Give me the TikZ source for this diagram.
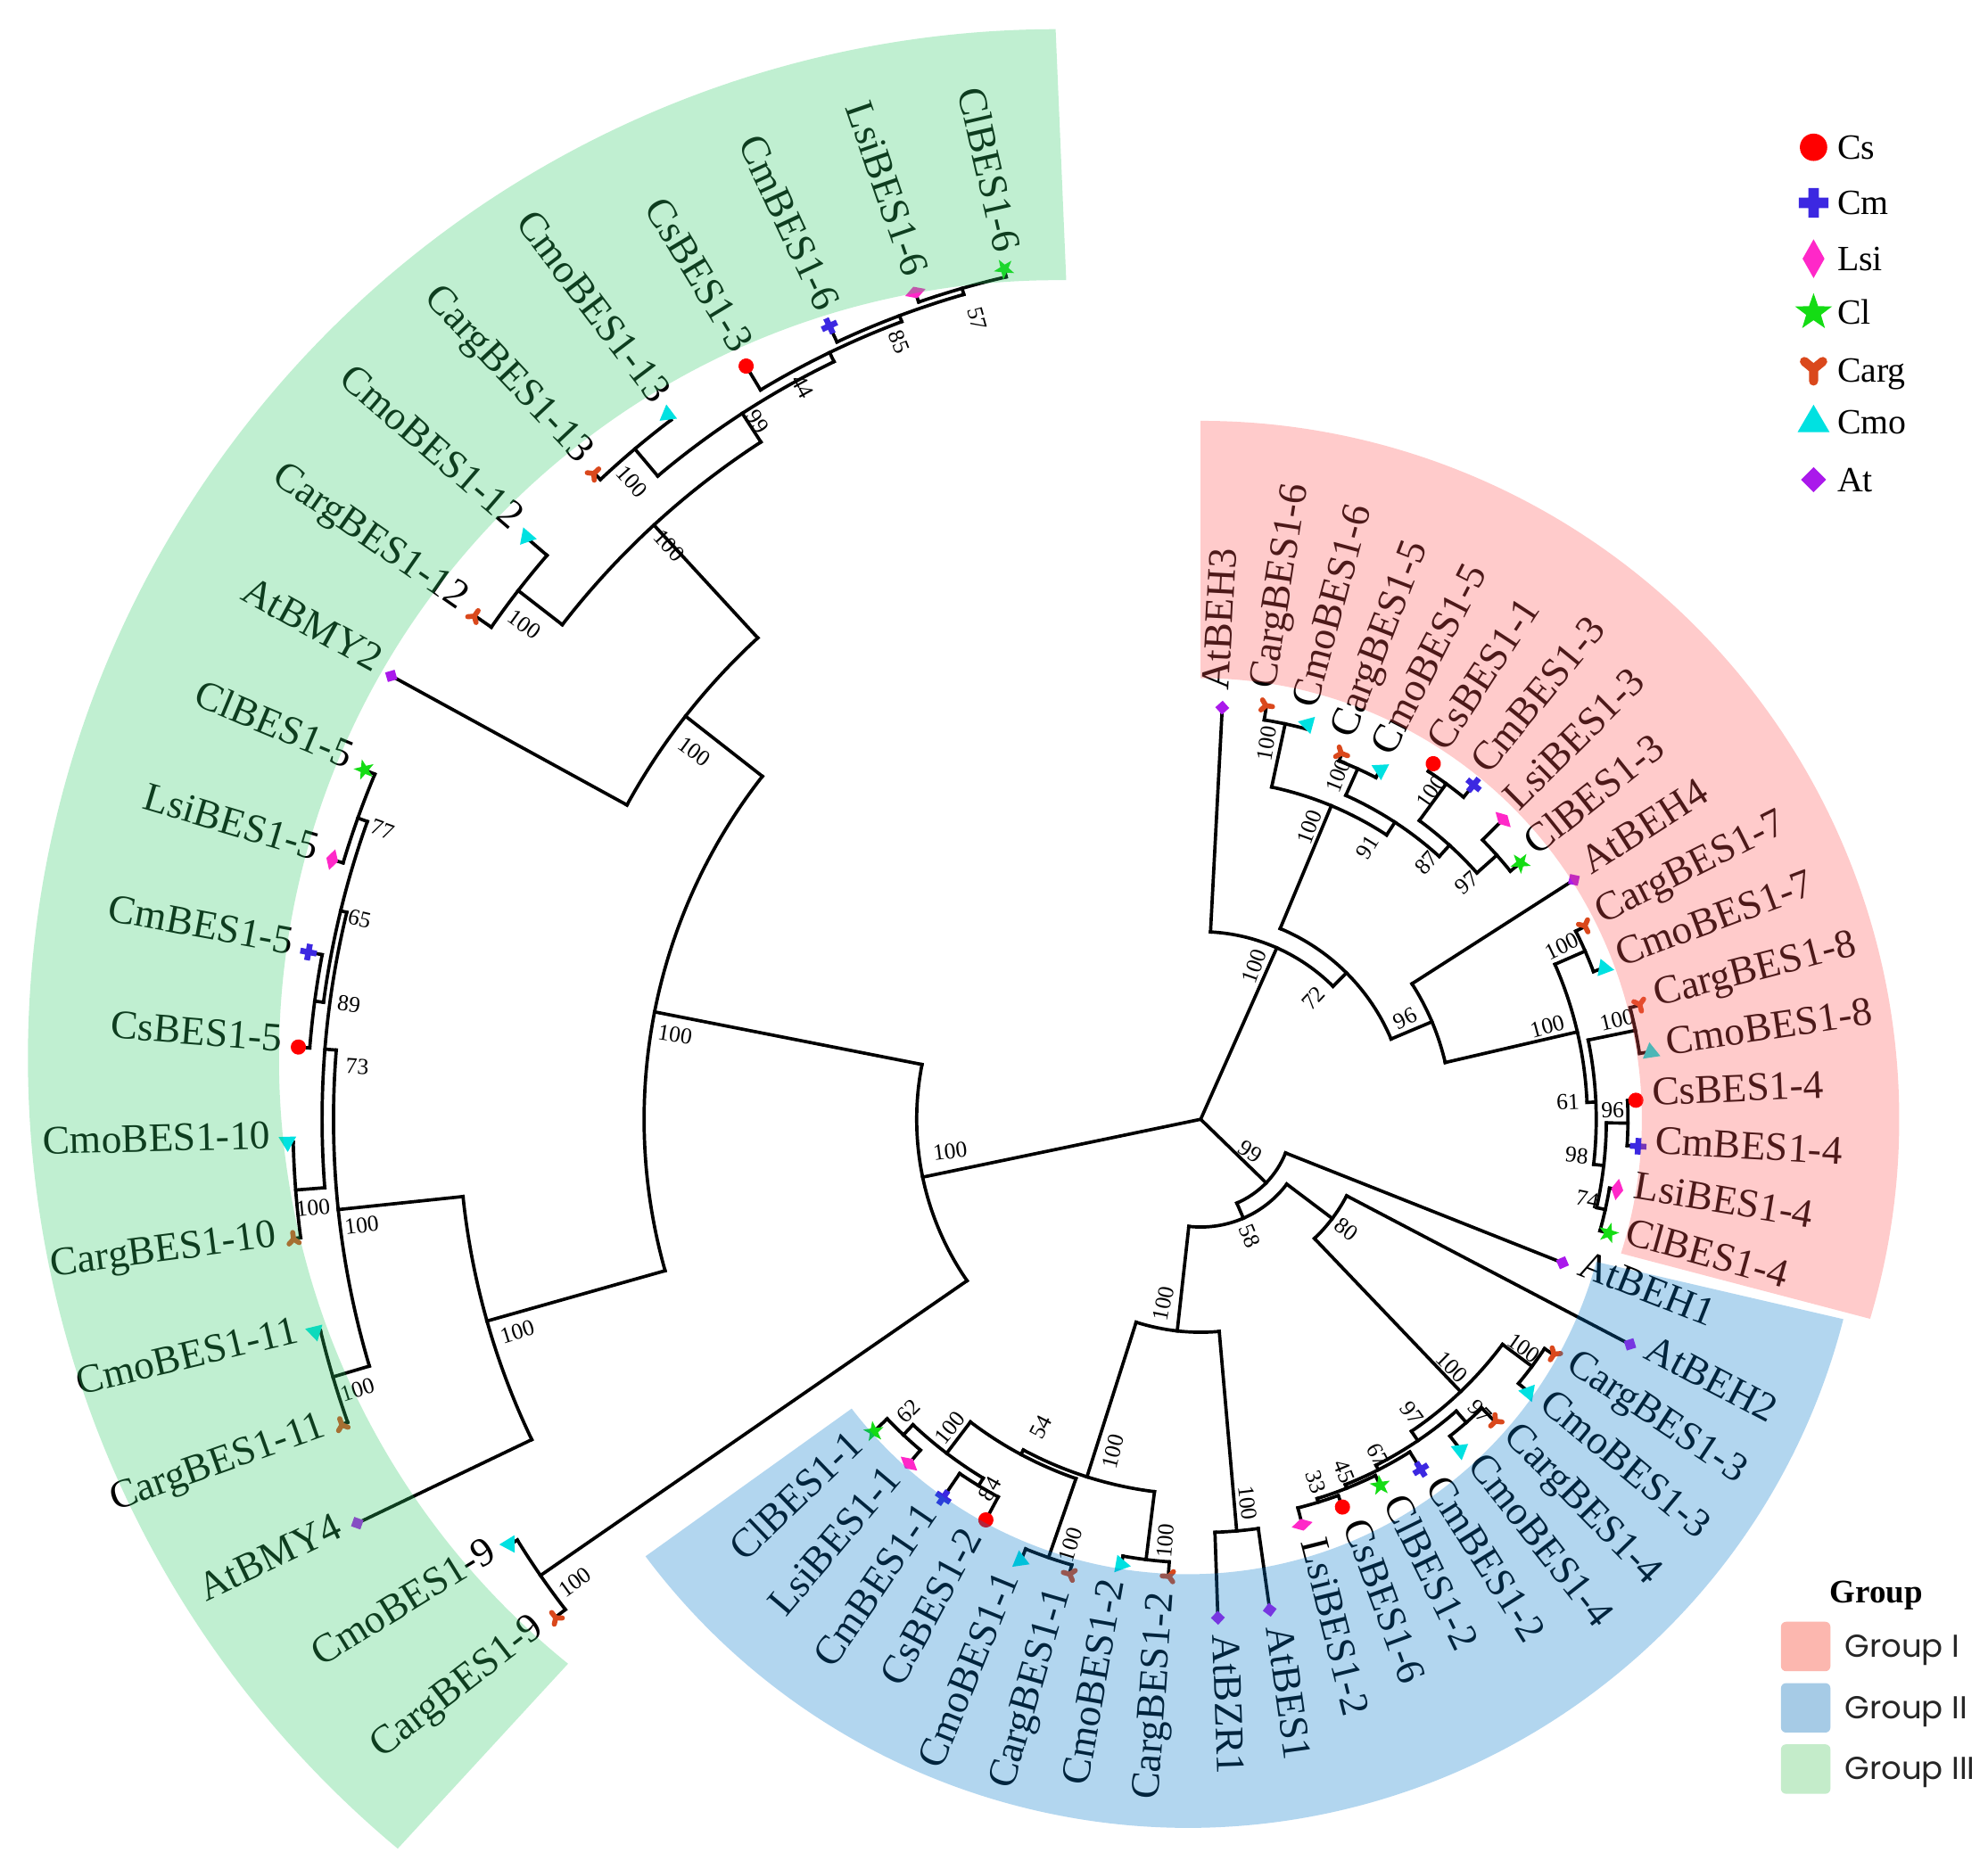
\documentclass[tikz,border=0pt]{standalone}
\usepackage{fontspec}
\setmainfont{Liberation Serif}
\newfontfamily\legfont{Poppins}
\definecolor{cCs}{RGB}{255,0,0}
\definecolor{cCm}{RGB}{60,40,225}
\definecolor{cLsi}{RGB}{255,40,200}
\definecolor{cCl}{RGB}{20,220,20}
\definecolor{cCarg}{RGB}{218,72,28}
\definecolor{cCmo}{RGB}{0,225,225}
\definecolor{cAt}{RGB}{170,25,235}
\definecolor{bG}{RGB}{48,205,105}
\definecolor{bP}{RGB}{255,85,85}
\definecolor{bB}{RGB}{2,122,205}
\definecolor{lgI}{RGB}{252,183,175}
\definecolor{lgII}{RGB}{166,203,230}
\definecolor{lgIII}{RGB}{196,236,202}
\newcommand\cargw{2pt}
\tikzset{
 br/.style={line width=1.3pt, line cap=rect},
 leaf/.style={font=\fontsize{16}{18}\selectfont, inner sep=0pt},
 bs/.style={font=\fontsize{9}{10}\selectfont, inner sep=0pt},
 legt/.style={font=\fontsize{14}{16}\selectfont, inner sep=0pt},
 mkCs/.pic={\fill[cCs] (0,0) circle[radius=6];},
 mkCm/.pic={\fill[cCm] (-6.5,-2.3) rectangle (6.5,2.3) (-2.3,-6.5) rectangle (2.3,6.5);},
 mkLsi/.pic={\fill[cLsi] (0,8.5) -- (4.8,0) -- (0,-8.5) -- (-4.8,0) -- cycle;},
 mkCl/.pic={\fill[cCl] (90:8.5) -- (126:3.4) -- (162:8.5) -- (198:3.4) -- (234:8.5) -- (270:3.4) -- (306:8.5) -- (342:3.4) -- (18:8.5) -- (54:3.4) -- cycle;},
 mkCarg/.pic={\draw[cCarg, line width=\cargw, line cap=round] (0,0.5) -- (-4,3.8) (0,0.5) -- (4,3.8) (0,0.5) -- (0,-4.8);},
 mkCmo/.pic={\fill[cCmo] (0,7.5) -- (-7,-4.5) -- (7,-4.5) -- cycle;},
 mkAt/.pic={\fill[cAt] (0,5.5) -- (5.5,0) -- (0,-5.5) -- (-5.5,0) -- cycle;},
}
% radial segment: angle, r1, r2
\newcommand\Rd[3]{\draw[br] (#1:#2) -- (#1:#3);}
% arc: radius, a1, a2
\newcommand\Ac[3]{\draw[br] (#2:#1) arc[start angle=#2, end angle=#3, radius=#1];}
% leaf: angle, parent r, leaf r, marker, text, name
\newcommand\Lf[6]{%
  \draw[br] (#1:#2) -- (#1:#3);
  \pgfmathsetmacro\lr{#3+13}%
  \pgfmathsetmacro\fl{(#1>90)&&(#1<270)}%
  \ifdim\fl pt>0.5pt
    \pgfmathsetmacro\rt{#1-180}%
    \node[leaf,anchor=mid east,rotate=\rt] (#6) at (#1:\lr) {#5};
  \else
    \node[leaf,anchor=mid west,rotate=#1] (#6) at (#1:\lr) {#5};
  \fi
  \pic[rotate=#1] at (#1:#3) {#4};
}
\newcounter{bsn}
\newcommand\Bs[3]{\stepcounter{bsn}%
  \pgfmathsetmacro\fl{(#1>90)&&(#1<270)}%
  \ifdim\fl pt>0.5pt\pgfmathsetmacro\rt{#1-180}\else\pgfmathsetmacro\rt{#1}\fi
  \node[bs,rotate=\rt] (b\arabic{bsn}) at (#1:#2) {#3};}
\begin{document}
\begin{tikzpicture}[x=0.5pt,y=0.5pt]
\useasboundingbox (0,0) rectangle (1568,1474);
\fill[white] (0,0) rectangle (1568,1474);
\begin{scope}[shift={(947,591)}]
\coordinate (root) at (0,0);
% root
\Rd{191.76}{0}{224}
\Rd{66.06}{0}{148}
\Rd{315.85}{0}{72}
% ---------- Group III ----------
\Ac{224}{168.87}{214.65}
\Rd{168.87}{224}{439}
\Rd{214.65}{224}{633}
\Ac{633}{211.63}{217.665}
\Lf{211.63}{633}{640}{mkCmo}{CmoBES1-9}{l19}
\Lf{217.665}{633}{643}{mkCarg}{CargBES1-9}{l20}
\Ac{439}{141.95}{195.79}
\Rd{141.95}{439}{516}
\Rd{195.79}{439}{585}
\Ac{516}{132.61}{151.28}
\Rd{132.61}{516}{637}
\Lf{151.28}{516}{728}{mkAt}{AtBMY2}{l9}
\Ac{637}{122.99}{142.23}
\Rd{122.99}{637}{664}
\Rd{142.23}{637}{681}
\Ac{664}{115.82}{130.16}
\Rd{115.82}{664}{672}
\Rd{130.16}{664}{692}
\Ac{672}{110.54}{121.105}
\Rd{110.54}{672}{677}
\Lf{121.105}{672}{694}{mkCs}{CsBES1-3}{l4}
\Ac{677}{106.02}{115.07}
\Rd{106.02}{677}{682}
\Lf{115.07}{677}{691}{mkCm}{CmBES1-6}{l3}
\Ac{682}{103}{109.035}
\Lf{103}{682}{688.5}{mkCl}{ClBES1-6}{l1}
\Lf{109.035}{682}{690}{mkLsi}{LsiBES1-6}{l2}
\Ac{692}{127.14}{133.175}
\Lf{127.14}{692}{697}{mkCmo}{CmoBES1-13}{l5}
\Lf{133.175}{692}{699}{mkCarg}{CargBES1-13}{l6}
\Ac{681}{139.21}{145.245}
\Lf{139.21}{681}{702.6}{mkCmo}{CmoBES1-12}{l7}
\Lf{145.245}{681}{697}{mkCarg}{CargBES1-12}{l8}
\Ac{585}{185.98}{205.595}
\Rd{185.98}{585}{684}
\Lf{205.595}{585}{737.6}{mkAt}{AtBMY4}{l18}
\Ac{684}{175.42}{196.54}
\Rd{175.42}{684}{693}
\Rd{196.54}{684}{714}
\Ac{714}{193.525}{199.56}
\Lf{193.525}{714}{718.4}{mkCmo}{CmoBES1-11}{l16}
\Lf{199.56}{714}{719}{mkCarg}{CargBES1-11}{l17}
\Ac{693}{166.37}{184.47}
\Rd{166.37}{693}{698}
\Rd{184.47}{693}{716}
\Ac{716}{181.455}{187.49}
\Lf{181.455}{716}{720.5}{mkCmo}{CmoBES1-10}{l14}
\Lf{187.49}{716}{721.7}{mkCarg}{CargBES1-10}{l15}
\Ac{698}{160.33}{172.40}
\Rd{160.33}{698}{706}
\Rd{172.40}{698}{705}
\Ac{706}{157.315}{163.35}
\Lf{157.315}{706}{715}{mkCl}{ClBES1-5}{l10}
\Lf{163.35}{706}{715}{mkLsi}{LsiBES1-5}{l11}
\Ac{705}{169.385}{175.42}
\Lf{169.385}{705}{716}{mkCm}{CmBES1-5}{l12}
\Lf{175.42}{705}{714}{mkCs}{CsBES1-5}{l13}
% ---------- Group II ----------
\Ac{72}{293.34}{338.365}
\Rd{293.34}{72}{85}
\Lf{338.365}{72}{307}{mkAt}{AtBEH1}{l40}
\Ac{85}{263.68}{323.0}
\Rd{263.68}{85}{168}
\Rd{323.0}{85}{130}
\Ac{130}{313.66}{332.33}
\Rd{313.66}{130}{297}
\Lf{332.33}{130}{382.4}{mkAt}{AtBEH2}{l39}
\Ac{297}{304.04}{323.28}
\Rd{304.04}{297}{306}
\Rd{323.28}{297}{326}
\Ac{326}{320.26}{326.295}
\Lf{320.26}{326}{336.5}{mkCmo}{CmoBES1-3}{l37}
\Lf{326.295}{326}{334.7}{mkCarg}{CargBES1-3}{l38}
\Ac{306}{296.87}{311.21}
\Rd{296.87}{306}{310}
\Rd{311.21}{306}{318}
\Ac{318}{308.19}{314.225}
\Lf{308.19}{318}{331.7}{mkCmo}{CmoBES1-4}{l35}
\Lf{314.225}{318}{332.9}{mkCarg}{CargBES1-4}{l36}
\Ac{310}{291.59}{302.155}
\Rd{291.59}{310}{313}
\Lf{302.155}{310}{326.2}{mkCm}{CmBES1-2}{l34}
\Ac{313}{287.07}{296.12}
\Rd{287.07}{313}{316}
\Lf{296.12}{313}{321.7}{mkCl}{ClBES1-2}{l33}
\Ac{316}{284.05}{290.085}
\Lf{284.05}{316}{329.7}{mkLsi}{LsiBES1-2}{l31}
\Lf{290.085}{316}{325.7}{mkCs}{CsBES1-6}{l32}
\Ac{168}{252.36}{275.0}
\Rd{252.36}{168}{296}
\Rd{275.0}{168}{326}
\Ac{326}{271.98}{278.015}
\Lf{271.98}{326}{393.5}{mkAt}{AtBZR1}{l29}
\Lf{278.015}{326}{390.8}{mkAt}{AtBES1}{l30}
\Ac{296}{241.8}{262.93}
\Rd{241.8}{296}{300}
\Rd{262.93}{296}{350}
\Ac{350}{259.91}{265.945}
\Lf{259.91}{350}{356.8}{mkCmo}{CmoBES1-2}{l27}
\Lf{265.945}{350}{361.5}{mkCarg}{CargBES1-2}{l28}
\Ac{300}{232.75}{250.86}
\Rd{232.75}{300}{331}
\Rd{250.86}{300}{366}
\Ac{366}{247.84}{253.875}
\Lf{247.84}{366}{376}{mkCmo}{CmoBES1-1}{l25}
\Lf{253.875}{366}{373.5}{mkCarg}{CargBES1-1}{l26}
\Ac{331}{226.72}{238.79}
\Rd{226.72}{331}{342}
\Rd{238.79}{331}{338}
\Ac{342}{223.70}{229.735}
\Lf{223.70}{342}{356.7}{mkCl}{ClBES1-1}{l21}
\Lf{229.735}{342}{356}{mkLsi}{LsiBES1-1}{l22}
\Ac{338}{235.77}{241.805}
\Lf{235.77}{338}{361}{mkCm}{CmBES1-1}{l23}
\Lf{241.805}{338}{358.6}{mkCs}{CsBES1-2}{l24}
% ---------- Group I ----------
\Ac{148}{45.12}{86.995}
\Rd{45.12}{148}{163}
\Lf{86.995}{148}{325.2}{mkAt}{AtBEH3}{l58}
\Ac{163}{22.87}{67.38}
\Rd{22.87}{163}{198}
\Rd{67.38}{163}{268}
\Ac{198}{13.07}{32.68}
\Rd{13.07}{198}{305}
\Lf{32.68}{198}{349.8}{mkAt}{AtBEH4}{l49}
\Ac{305}{2.5}{23.63}
\Rd{2.5}{305}{312}
\Rd{23.63}{305}{331}
\Ac{331}{20.61}{26.645}
\Lf{20.61}{331}{339.8}{mkCmo}{CmoBES1-7}{l47}
\Lf{26.645}{331}{339.3}{mkCarg}{CargBES1-7}{l48}
\Ac{312}{-6.55}{11.56}
\Rd{-6.55}{312}{320}
\Rd{11.56}{312}{350}
\Ac{350}{8.54}{14.575}
\Lf{8.54}{350}{359}{mkCmo}{CmoBES1-8}{l45}
\Lf{14.575}{350}{358}{mkCarg}{CargBES1-8}{l46}
\Ac{320}{-12.58}{-0.51}
\Rd{-12.58}{320}{327}
\Rd{-0.51}{320}{337}
\Ac{337}{-3.53}{2.505}
\Lf{356.47}{337}{345.7}{mkCm}{CmBES1-4}{l43}
\Lf{2.505}{337}{343.6}{mkCs}{CsBES1-4}{l44}
\Ac{327}{-15.6}{-9.565}
\Lf{344.40}{327}{334}{mkCl}{ClBES1-4}{l41}
\Lf{350.435}{327}{333.2}{mkLsi}{LsiBES1-4}{l42}
\Ac{268}{56.82}{77.94}
\Rd{56.82}{268}{280}
\Rd{77.94}{268}{319}
\Ac{319}{74.925}{80.96}
\Lf{74.925}{319}{323}{mkCmo}{CmoBES1-6}{l56}
\Lf{80.96}{319}{330.4}{mkCarg}{CargBES1-6}{l57}
\Ac{280}{47.77}{65.87}
\Rd{47.77}{280}{292}
\Rd{65.87}{280}{303}
\Ac{303}{62.855}{68.89}
\Lf{62.855}{303}{310}{mkCmo}{CmoBES1-5}{l54}
\Lf{68.89}{303}{309.3}{mkCarg}{CargBES1-5}{l55}
\Ac{292}{41.73}{53.80}
\Rd{41.73}{292}{313}
\Rd{53.80}{292}{328}
\Ac{313}{38.715}{44.75}
\Lf{38.715}{313}{323.3}{mkCl}{ClBES1-3}{l50}
\Lf{44.75}{313}{335.9}{mkLsi}{LsiBES1-3}{l51}
\Ac{328}{50.785}{56.82}
\Lf{50.785}{328}{340.5}{mkCm}{CmBES1-3}{l52}
\Lf{56.82}{328}{335.2}{mkCs}{CsBES1-1}{l53}
% ---------- bootstrap values ----------
\Bs{105.6}{655.5}{57}
\Bs{111.2}{657.5}{85}
\Bs{118.5}{658}{44}
\Bs{122.4}{651.8}{99}
\Bs{131.7}{674}{100}
\Bs{132.8}{617}{100}
\Bs{143.8}{661}{100}
\Bs{144}{493.6}{100}
\Bs{170.8}{420}{100}
\Bs{187.3}{199.3}{100}
\Bs{160.5}{684.7}{77}
\Bs{166.6}{682}{65}
\Bs{172.3}{678}{89}
\Bs{176.4}{666.6}{73}
\Bs{185.7}{703.7}{100}
\Bs{187.2}{667}{100}
\Bs{197.8}{698.6}{100}
\Bs{197.3}{564.6}{100}
\Bs{216.5}{614}{100}
\Bs{326.8}{46.6}{99}
\Bs{292.6}{100}{58}
\Bs{323}{144}{80}
\Bs{258.6}{148.4}{100}
\Bs{255.2}{271}{100}
\Bs{242.6}{273.7}{54}
\Bs{230.9}{313.3}{100}
\Bs{225}{326}{62}
\Bs{240.3}{335.7}{84}
\Bs{253}{351}{100}
\Bs{265.2}{333.8}{100}
\Bs{277}{305}{100}
\Bs{315.4}{278}{100}
\Bs{324.7}{312.3}{100}
\Bs{313.7}{318.6}{97}
\Bs{305.7}{285.7}{97}
\Bs{297.8}{299.7}{67}
\Bs{292.2}{300}{45}
\Bs{287.6}{300}{33}
\Bs{70.7}{127.8}{100}
\Bs{47}{130.5}{72}
\Bs{26.3}{180}{96}
\Bs{69.6}{246}{100}
\Bs{80}{301}{100}
\Bs{58.5}{252}{91}
\Bs{68.2}{292}{100}
\Bs{48.6}{269.6}{87}
\Bs{54.9}{316}{100}
\Bs{41.6}{281}{97}
\Bs{15}{283}{100}
\Bs{25.6}{316}{100}
\Bs{13.4}{337.5}{100}
\Bs{2.7}{290}{61}
\Bs{1.3}{325}{96}
\Bs{354.5}{298}{98}
\Bs{348.3}{311.5}{74}
% ---------- group bands (translucent overlay) ----------
\fill[bP, fill opacity=0.3] (90:551) -- (90:348) arc[start angle=90, end angle=-17.7, radius=348] -- (-16.6:551) arc[start angle=-16.6, end angle=90, radius=551] -- cycle;
\begin{scope}[shift={(-10.3,-24.9)}]
\fill[bB, fill opacity=0.3] (217.5:334) arc[start angle=217.5, end angle=344.8, radius=334] -- (345.6:534) arc[start angle=345.6, end angle=216.8, radius=534] -- cycle;
\end{scope}
\begin{scope}[shift={(-113,48)}]
\fill[bG, fill opacity=0.3] (89.35:614) arc[start angle=89.35, end angle=231.05, radius=614] -- (230.15:812) arc[start angle=230.15, end angle=90.1, radius=812] -- cycle;
\end{scope}
\end{scope}
% ---------- species legend ----------
\renewcommand\cargw{3.6pt}
\pic[scale=1.8] at (1430.4,1357.8) {mkCs};
\node[legt,anchor=base west] (lgCs) at (1448.7,1348.5) {Cs};
\pic[scale=1.8] at (1430.4,1313.9) {mkCm};
\node[legt,anchor=base west] (lgCm) at (1448.7,1304.6) {Cm};
\pic[scale=1.8] at (1430.4,1269.9) {mkLsi};
\node[legt,anchor=base west] (lgLsi) at (1448.7,1260.6) {Lsi};
\pic[scale=1.8] at (1430.4,1227.5) {mkCl};
\node[legt,anchor=base west] (lgCl) at (1448.7,1218.2) {Cl};
\pic[scale=1.8] at (1430.4,1182) {mkCarg};
\node[legt,anchor=base west] (lgCarg) at (1448.7,1172.7) {Carg};
\pic[scale=1.8] at (1430.4,1141.2) {mkCmo};
\node[legt,anchor=base west] (lgCmo) at (1448.7,1131.9) {Cmo};
\pic[scale=1.8] at (1430.4,1095.6) {mkAt};
\node[legt,anchor=base west] (lgAt) at (1448.7,1086.3) {At};
% ---------- group legend ----------
\node[font=\bfseries\fontsize{13}{15}\selectfont, inner sep=0pt, anchor=base] (lgTitle) at (1480,209.4) {Group};
\fill[lgI, rounded corners=2] (1404.7,155.6) rectangle (1443.7,194.6);
\fill[lgII, rounded corners=2] (1404.7,107.2) rectangle (1443.7,146.2);
\fill[lgIII, rounded corners=2] (1404.7,58.9) rectangle (1443.7,97.9);
\node[font=\legfont\fontsize{12.5}{14}\selectfont, text=black!85, inner sep=0pt, anchor=base west] (lgG1) at (1454.7,166.7) {Group I};
\node[font=\legfont\fontsize{12.5}{14}\selectfont, text=black!85, inner sep=0pt, anchor=base west] (lgG2) at (1454.7,118.3) {Group II};
\node[font=\legfont\fontsize{12.5}{14}\selectfont, text=black!85, inner sep=0pt, anchor=base west] (lgG3) at (1454.7,70.0) {Group III};
\end{tikzpicture}
\end{document}
